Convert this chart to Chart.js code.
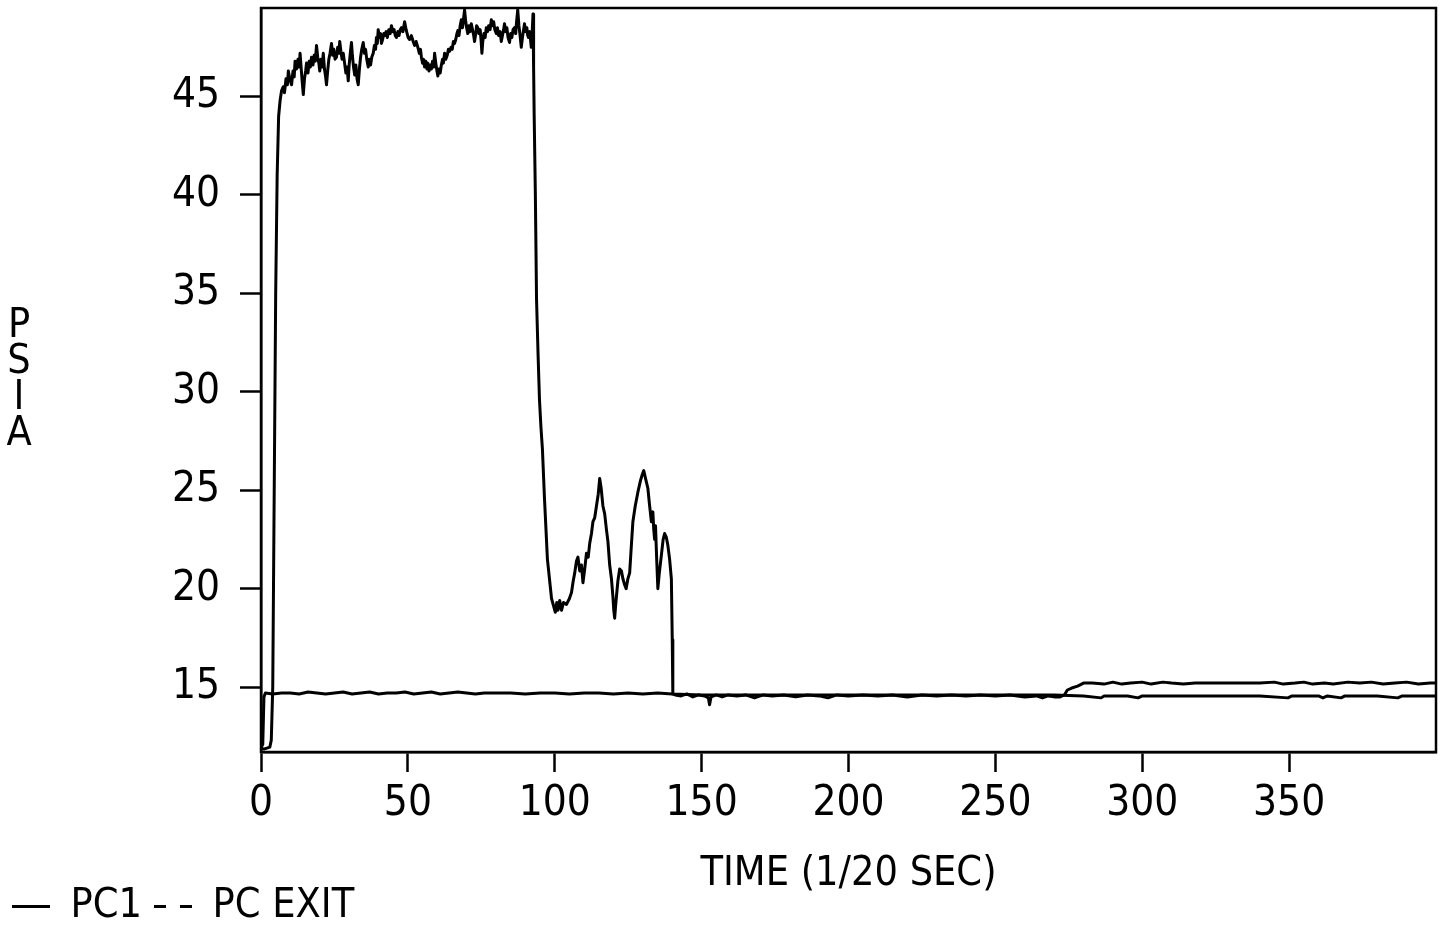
<!DOCTYPE html>
<html><head><meta charset="utf-8">
<script src="https://cdn.jsdelivr.net/npm/chart.js@4.4.1/dist/chart.umd.min.js"></script>
<style>html,body{margin:0;padding:0;background:#fff;}canvas{display:block;}</style>
</head><body>
<canvas id="c" width="1440" height="930"></canvas>
<script>
// ---- data ----
const seriesNames = ['PC1', 'PC EXIT'];
const xTitle = 'TIME (1/20 SEC)';
const yTitle = ['P', 'S', 'I', 'A'];
const xTicks = [0, 50, 100, 150, 200, 250, 300, 350];
const yTicks = [15, 20, 25, 30, 35, 40, 45];

const pc1X = [0,1,2,3,3.5,4,4.5,5,5.5,6,6.5,7.0,7.6,8.0,8.5,9.0,9.3,9.8,10.4,10.9,11.3,11.6,12.1,12.6,13.0,13.3,13.7,14.0,14.4,14.8,15.2,15.5,16.0,16.4,16.8,17.2,17.7,18.1,18.5,18.9,19.3,19.7,20.0,20.4,20.8,21.2,21.6,22.0,22.3,22.7,23.1,23.5,24.0,24.4,24.8,25.2,25.7,26.1,26.5,26.8,27.2,27.6,28.0,28.5,28.9,29.3,29.7,30.0,30.4,30.8,31.1,31.5,31.9,32.3,32.7,33.1,33.5,33.9,34.3,34.8,35.2,35.6,36.0,36.5,36.9,37.3,37.7,38.2,38.6,39.0,39.3,39.6,39.9,40.3,40.7,41.0,41.4,41.8,42.1,42.6,43.0,43.5,44.0,44.4,44.9,45.3,45.7,46.1,46.6,47.0,47.4,47.8,48.3,48.9,49.4,50.1,50.6,51.2,51.8,52.3,52.8,53.4,53.9,54.3,54.6,55.0,55.3,55.7,56.1,56.5,56.8,57.2,57.6,58.0,58.4,58.8,59.1,59.5,59.9,60.2,60.6,61.0,61.4,61.8,62.1,62.5,62.9,63.4,63.8,64.2,64.7,65.1,65.5,65.9,66.3,66.7,67.0,67.4,67.8,68.2,68.6,68.9,69.3,69.7,70.0,70.4,70.8,71.2,71.6,72.0,72.4,72.7,73.1,73.4,73.8,74.2,74.6,74.9,75.2,75.5,75.9,76.3,76.7,77.1,77.5,78.0,78.4,78.8,79.2,79.6,80.1,80.5,80.9,81.4,81.8,82.2,82.6,82.9,83.3,83.7,84.1,84.6,85.0,85.4,85.8,86.3,86.7,87.0,87.4,87.8,88.2,88.6,89.0,89.4,89.7,90.1,90.5,90.8,91.1,91.5,92.0,92.3,92.6,92.8,93.0,93.4,93.8,94.3,94.8,95.3,95.8,96.5,97.5,98.9,100.2,100.7,101.1,101.7,102.3,103,104,105,105.7,106.3,106.8,107.4,107.9,108.5,109.1,109.6,110.2,110.8,111.4,111.9,112.5,113,113.6,114.2,114.8,115.3,115.8,116.4,117,117.6,118.1,118.7,119.3,119.8,120.1,120.4,120.7,121,121.5,122.1,122.7,123.2,123.8,124.3,124.9,125.5,126,126.6,127.4,128.3,129.2,129.8,130.3,130.9,131.7,132.3,132.9,133.4,133.7,134,134.3,134.7,135.1,135.6,136.3,136.9,137.4,138,138.5,139.1,139.7,140,140.2,141,143,145,147,149,151,152.3,152.7,153.2,155,157,159,162,165,168,171,174,178,182,186,190,193,196,200,205,210,215,220,225,230,235,240,245,250,255,260,264,266,268,270,272,273.5,274.5,276,278,280,283,287,290,293,296,300,303,307,310,314,318,322,330,340,345,348,352,355,358,362,365,370,374,378,382,386,390,394,398,400];
const pc1Y = [11.9,11.85,11.9,11.95,12.3,15,25,35,41,44,44.8,45.3,45.5,45.2,45.9,45.6,46.3,45.9,45.6,46.3,46.0,46.8,46.4,46.9,46.5,47.2,46.4,45.8,45.1,45.9,46.3,46.7,46.2,46.8,46.5,47.0,46.6,47.1,46.8,47.6,47.0,46.7,46.3,46.9,46.5,47.2,46.4,46.0,45.6,46.3,46.9,47.2,47.7,47.1,47.4,46.9,47.0,47.5,47.2,47.8,47.3,46.9,47.2,46.65,46.2,46.5,45.8,46.6,47.2,47.75,47.1,46.5,46.1,46.6,45.9,45.6,46.4,47.0,47.4,47.75,47.2,47.4,46.9,46.5,46.9,46.6,47.0,47.2,47.6,47.4,48.0,47.7,48.4,48.0,48.2,47.7,47.9,48.2,48.1,48.3,48.0,48.4,48.2,48.6,48.3,48.4,48.1,48.0,48.3,48.1,48.4,48.5,48.3,48.8,48.4,48.0,47.9,48.1,47.8,47.6,47.8,47.5,47.2,47.4,47.0,46.7,46.9,46.5,46.8,46.4,46.7,46.3,46.6,46.4,46.8,46.5,47.2,46.7,46.3,46.05,46.4,46.2,46.6,46.9,46.7,47.2,46.9,47.1,47.4,47.3,47.5,47.4,47.8,47.7,47.9,48.2,48.35,48.1,48.6,48.9,48.5,48.9,49.4,48.8,48.5,48.2,48.6,48.3,48.7,48.4,48.1,47.8,48.2,48.6,48.5,48.2,48.4,47.9,47.2,47.8,48.2,48.0,48.5,48.3,48.6,48.4,48.9,48.6,48.8,48.4,48.2,48.5,48.1,48.3,47.8,48.1,48.4,48.7,48.3,48.5,48.0,47.75,48.2,48.0,48.4,48.5,48.2,48.8,49.4,48.6,48.1,47.5,48.0,48.4,48.7,48.3,48.5,48.1,48.0,48.3,47.5,48.2,49.2,46.5,44.0,40.0,34.7,32.0,29.6,28.2,27.1,24.6,21.5,19.5,18.8,19.3,18.9,19.4,18.9,19.3,19.2,19.5,19.8,20.4,20.8,21.4,21.6,20.9,21.2,20.3,21.0,21.8,21.6,22.3,22.8,23.4,23.6,24.2,24.8,25.6,25.1,24.2,23.8,23.0,22.4,21.2,20.5,19.6,18.9,18.5,19.1,19.6,20.4,21.0,20.9,20.5,20.2,20.0,20.5,20.8,22.0,23.4,24.2,24.9,25.5,25.8,26.0,25.6,25.1,24.2,23.4,23.9,23.0,22.5,23.2,21.5,20.0,20.8,21.7,22.5,22.8,22.6,22.2,21.5,20.5,17.4,14.65,14.6,14.55,14.65,14.5,14.6,14.55,14.45,14.1,14.5,14.6,14.5,14.6,14.55,14.6,14.45,14.6,14.55,14.6,14.5,14.6,14.55,14.45,14.6,14.55,14.6,14.55,14.6,14.5,14.6,14.55,14.6,14.55,14.6,14.55,14.6,14.5,14.55,14.45,14.55,14.5,14.5,14.6,14.85,14.95,15.05,15.2,15.2,15.15,15.25,15.15,15.2,15.25,15.15,15.25,15.2,15.15,15.2,15.2,15.2,15.2,15.25,15.15,15.2,15.25,15.15,15.2,15.15,15.25,15.2,15.25,15.15,15.2,15.25,15.15,15.2,15.2];

const exitX = [0,0.6,1,1.5,4,7,10,13,16,19,22,25,28,31,34,37,40,43,46,49,52,55,58,61,64,67,70,73,76,80,85,90,95,100,105,110,115,120,125,130,135,140,150,170,190,210,230,250,270,280,286,287,295,298.6,300,320,340,349.6,351,360,361.5,363,367.7,369,380,387,388.5,400];
const exitY = [11.9,12.1,14.5,14.7,14.65,14.7,14.7,14.65,14.75,14.7,14.65,14.7,14.75,14.65,14.7,14.75,14.65,14.7,14.7,14.75,14.65,14.7,14.75,14.65,14.7,14.75,14.7,14.65,14.7,14.7,14.7,14.65,14.7,14.7,14.65,14.7,14.7,14.65,14.7,14.65,14.7,14.65,14.6,14.6,14.6,14.6,14.6,14.6,14.6,14.55,14.45,14.55,14.55,14.45,14.55,14.55,14.55,14.45,14.55,14.55,14.45,14.55,14.45,14.55,14.55,14.45,14.55,14.55];

// ---- chart ----
const FONT = "'Liberation Sans Narrow','DejaVu Sans Condensed','Arial Narrow',sans-serif";
Chart.defaults.font.family = FONT;
Chart.defaults.color = '#000';

const frame = {
  id: 'frame',
  afterDatasetsDraw(chart) {
    const a = chart.chartArea, ctx = chart.ctx;
    ctx.save();
    ctx.strokeStyle = '#000';
    ctx.lineWidth = 2.5;
    ctx.strokeRect(a.left, a.top, a.right - a.left, a.bottom - a.top);
    ctx.restore();
  }
};
const stackedTitle = {
  id: 'stackedTitle',
  afterDraw(chart) {
    const ctx = chart.ctx;
    ctx.save();
    ctx.fillStyle = '#000';
    ctx.font = '41px ' + FONT;
    ctx.textAlign = 'center';
    ctx.textBaseline = 'middle';
    const step = 36, mid = (chart.chartArea.top + chart.chartArea.bottom) / 2;
    yTitle.forEach((ch, i) => {
      ctx.fillText(ch, 19, mid + (i - (yTitle.length - 1) / 2) * step);
    });
    ctx.restore();
  }
};

const toPts = (xs, ys) => xs.map((x, i) => ({x, y: ys[i]}));

new Chart(document.getElementById('c'), {
  type: 'line',
  data: {
    datasets: [
      {label: seriesNames[0], data: toPts(pc1X, pc1Y), borderColor: '#000', borderWidth: 3, pointRadius: 0, tension: 0, borderJoinStyle: 'round'},
      {label: seriesNames[1], data: toPts(exitX, exitY), borderColor: '#000', borderWidth: 3, pointRadius: 0, tension: 0, borderJoinStyle: 'round'}
    ]
  },
  options: {
    responsive: false,
    animation: false,
    events: [],
    layout: {padding: {top: 8, right: 4, left: 0, bottom: -7}},
    plugins: {
      tooltip: {enabled: false},
      legend: {
        position: 'bottom',
        align: 'start',
        labels: {
          usePointStyle: true,
          pointStyleWidth: 38,
          padding: 12,
          color: '#000',
          font: {size: 41, family: FONT},
          generateLabels: () => [
            {text: seriesNames[0], pointStyle: 'line', lineWidth: 3, strokeStyle: '#000', fillStyle: '#000', lineDash: [], fontColor: '#000', hidden: false, datasetIndex: 0},
            {text: seriesNames[1], pointStyle: 'line', lineWidth: 3, strokeStyle: '#000', fillStyle: '#000', lineDash: [12, 14], fontColor: '#000', hidden: false, datasetIndex: 1}
          ]
        }
      }
    },
    scales: {
      x: {
        type: 'linear',
        min: 0, max: 400,
        afterBuildTicks: s => { s.ticks = xTicks.map(v => ({value: v})); },
        afterFit: s => { s.height = 122; s.paddingLeft = 0; s.paddingRight = 0; },
        ticks: {font: {size: 42}, color: '#000', padding: 7, maxRotation: 0, autoSkip: false},
        grid: {drawOnChartArea: false, drawTicks: true, tickLength: 20, tickWidth: 2.5, tickColor: '#000'},
        border: {display: true, color: '#000', width: 2.5},
        title: {display: true, text: xTitle, color: '#000', font: {size: 41}, padding: {top: 0, bottom: -25}}
      },
      y: {
        type: 'linear',
        min: 11.7, max: 49.5,
        afterBuildTicks: s => { s.ticks = yTicks.map(v => ({value: v})); },
        afterFit: s => { s.width = 261; s.paddingTop = 0; s.paddingBottom = 0; },
        ticks: {font: {size: 42}, color: '#000', padding: 20},
        grid: {drawOnChartArea: false, drawTicks: true, tickLength: 21, tickWidth: 2.5, tickColor: '#000'},
        border: {display: true, color: '#000', width: 2.5},
        title: {display: false}
      }
    }
  },
  plugins: [frame, stackedTitle]
});
</script>
</body></html>
